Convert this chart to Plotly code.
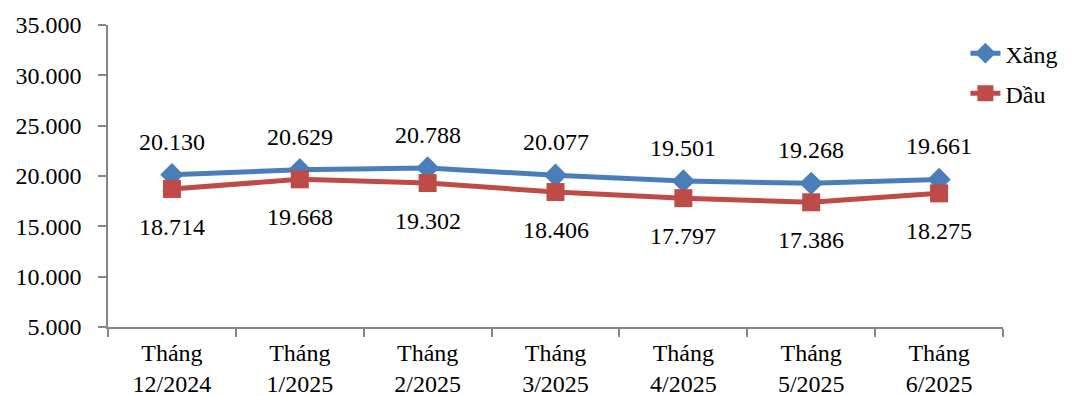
import plotly.graph_objects as go

categories = ["Tháng<br>12/2024", "Tháng<br>1/2025", "Tháng<br>2/2025", "Tháng<br>3/2025",
              "Tháng<br>4/2025", "Tháng<br>5/2025", "Tháng<br>6/2025"]
xang = [20130, 20629, 20788, 20077, 19501, 19268, 19661]
dau = [18714, 19668, 19302, 18406, 17797, 17386, 18275]
y_ticks = [5000, 10000, 15000, 20000, 25000, 30000, 35000]

def fmt(v):
    return f"{v:,}".replace(",", ".")

FONT = "'Liberation Serif', 'Times New Roman', Times, serif"
BLUE = "#4A7EBB"
RED = "#BE4B48"

fig = go.Figure()
fig.add_trace(go.Scatter(x=categories, y=xang, name="Xăng", mode="lines+markers",
                         line=dict(color=BLUE, width=5),
                         marker=dict(symbol="diamond", size=18, color=BLUE),
                         legendgroup="a"))
fig.add_trace(go.Scatter(x=categories, y=dau, name="Dầu", mode="lines+markers",
                         line=dict(color=RED, width=5),
                         marker=dict(symbol="square", size=18, color=RED),
                         legendgroup="b"))

for c, v in zip(categories, xang):
    fig.add_annotation(x=c, y=v, text=fmt(v), showarrow=False, yshift=33,
                       font=dict(family=FONT, size=24, color="black"))
for c, v in zip(categories, dau):
    fig.add_annotation(x=c, y=v, text=fmt(v), showarrow=False, yshift=-38,
                       font=dict(family=FONT, size=24, color="black"))

fig.update_layout(
    width=1072, height=396,
    margin=dict(l=108, r=69, t=25, b=69, autoexpand=False),
    paper_bgcolor="white", plot_bgcolor="white",
    separators=",.",
    font=dict(family=FONT, size=24, color="black"),
    showlegend=True,
    legend=dict(x=0.958, y=0.98, xanchor="left", yanchor="top",
                font=dict(family=FONT, size=24, color="black"),
                bgcolor="rgba(0,0,0,0)", tracegroupgap=6, itemwidth=30),
)
fig.update_xaxes(type="category", range=[-0.5, len(categories) - 0.5],
                 showline=True, linecolor="#868686", linewidth=1.5,
                 ticks="outside", ticklen=8, tickcolor="#868686", tickwidth=1.5,
                 tickson="boundaries", showgrid=False, zeroline=False, automargin=False,
                 ticklabelstandoff=3,
                 tickfont=dict(family=FONT, size=24, color="black"))
fig.update_yaxes(range=[5000, 35000], tickvals=y_ticks, tickformat=",d",
                 showline=True, linecolor="#868686", linewidth=1.5,
                 ticks="outside", ticklen=8, tickcolor="#868686", tickwidth=1.5,
                 showgrid=False, zeroline=False, automargin=False,
                 ticklabelstandoff=12,
                 tickfont=dict(family=FONT, size=24, color="black"))

fig.write_html("out.html")
